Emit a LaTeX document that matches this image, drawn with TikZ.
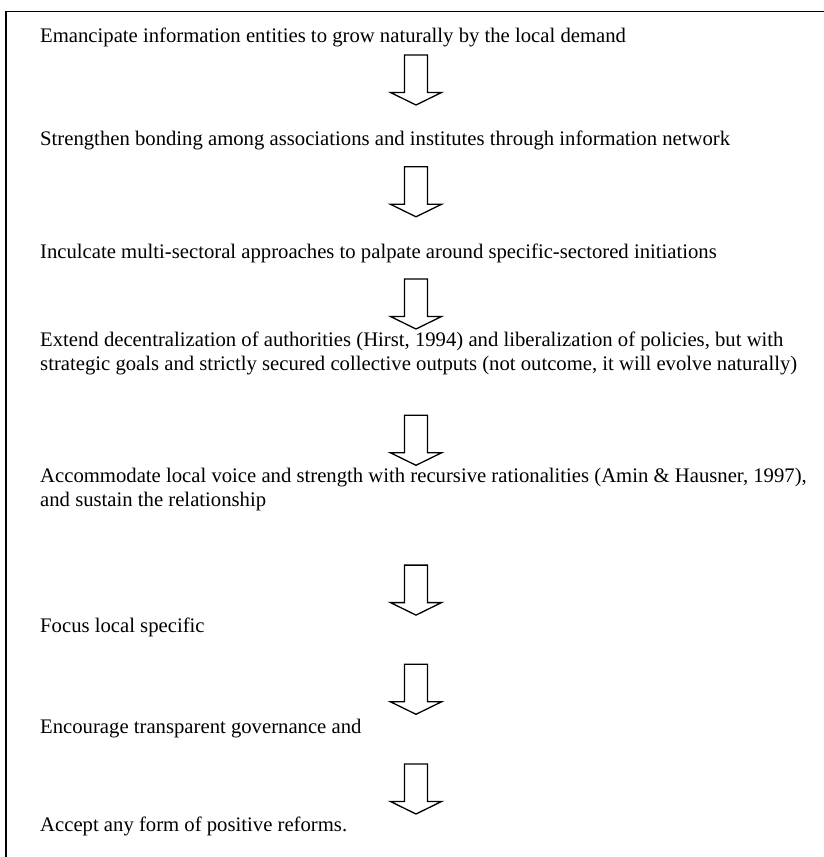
\documentclass[tikz,border=0pt]{standalone}
\usepackage{fontspec}
\setmainfont{Liberation Serif}
\begin{document}
\begin{tikzpicture}[x=1pt,y=-1pt,
  steptext/.style={anchor=base west, inner sep=0pt, align=left,
    font=\fontsize{20.7}{24}\selectfont},
  framerule/.style={line width=1.3pt},
  pics/downarrow/.style={code={
    \draw[line width=1.3pt, fill=white, line join=miter]
      (-11.5,0) -- (-11.5,37.5) -- (-25.5,37.5) -- (0,50)
      -- (25.5,37.5) -- (11.5,37.5) -- (11.5,0) -- cycle;}}
]
\useasboundingbox (0,0) rectangle (823,857);

% open frame: left and top edges
\coordinate (fbl) at (6,860);
\coordinate (ftl) at (6,11.5);
\coordinate (ftr) at (826,11.5);
\draw[framerule] (fbl) -- (ftl) -- (ftr);

% steps
\node[steptext] (t1) at (40,42) {Emancipate information entities to grow naturally by the local demand};
\node[steptext] (t2) at (40,145.5) {Strengthen bonding among associations and institutes through information network};
\node[steptext] (t3) at (40,258) {Inculcate multi-sectoral approaches to palpate around specific-sectored initiations};
\node[steptext] (t4) at (40,370.6) {Extend decentralization of authorities (Hirst, 1994) and liberalization of policies, but with\\strategic goals and strictly secured collective outputs (not outcome, it will evolve naturally)};
\node[steptext] (t5) at (40,506.8) {Accommodate local voice and strength with recursive rationalities (Amin \& Hausner, 1997),\\and sustain the relationship};
\node[steptext] (t6) at (40,632) {Focus local specific};
\node[steptext] (t7) at (40,733) {Encourage transparent governance and};
\node[steptext] (t8) at (40,831) {Accept any form of positive reforms.};

% block arrows between the steps
\pic (a1) at (416,55) {downarrow};
\pic (a2) at (416,166.8) {downarrow};
\pic (a3) at (416,279) {downarrow};
\pic (a4) at (416,415.3) {downarrow};
\pic (a5) at (416,565.1) {downarrow};
\pic (a6) at (416,664.3) {downarrow};
\pic (a7) at (416,764) {downarrow};
\end{tikzpicture}
\end{document}
